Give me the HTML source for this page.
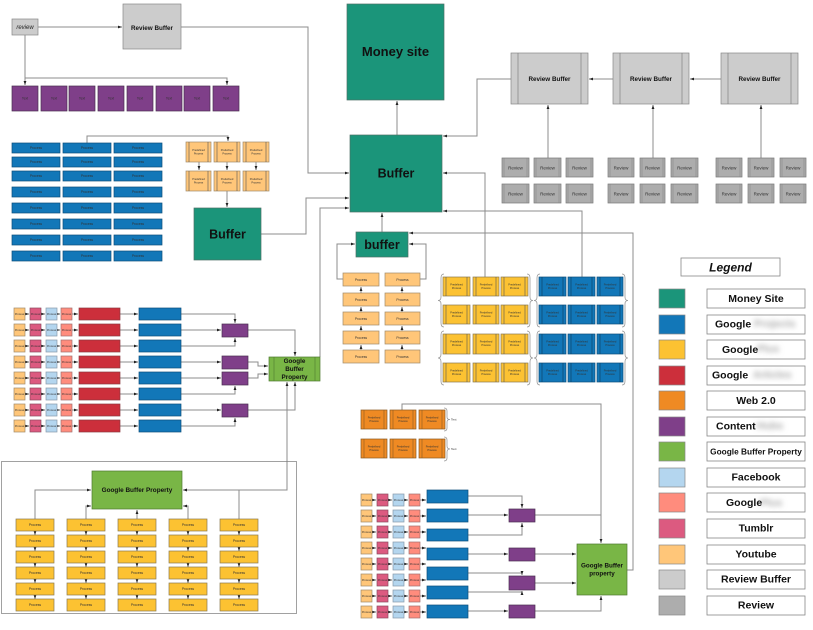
<!DOCTYPE html>
<html><head><meta charset="utf-8">
<style>
html,body{margin:0;padding:0;background:#fff;width:813px;height:630px;overflow:hidden}
svg{display:block;font-family:"Liberation Sans",Arial,sans-serif}
.c{fill:none;stroke:#8c8c8c;stroke-width:1}
rect{stroke:#7a7a7a;stroke-width:.7}
.t{font-size:3.4px;fill:#333;text-anchor:middle}
.s{font-size:2.6px;fill:#333;text-anchor:middle}
.b{font-weight:bold;text-anchor:middle;fill:#111}
.teal{fill:#1b957a;stroke:#4d6f66}
.blu{fill:#1277b8;stroke:#0c4f7a}
.yel{fill:#fcc232;stroke:#8a7a50}
.red{fill:#cc2f3b;stroke:#8a3a40}
.org{fill:#ef8a23;stroke:#8a5a20}
.pur{fill:#7f3f89;stroke:#4a3050}
.grn{fill:#79b646;stroke:#4f7a30}
.fb{fill:#b4d6ef;stroke:#8899aa}
.gp{fill:#ff8c7d;stroke:#a07070}
.tb{fill:#dc5a80;stroke:#8a4a60}
.yt{fill:#ffc679;stroke:#a08a6a}
.rb{fill:#cccccc;stroke:#888}
.rv{fill:#adadad;stroke:#777}
.il{fill:none;stroke:#555;stroke-width:.6}
.br{fill:none;stroke:#999;stroke-width:.8}
.lg{fill:#fff;stroke:#888;stroke-width:.8}
.blr{font-weight:bold;font-size:10.5px;fill:#a8a8a8}
</style></head><body>
<svg width="813" height="630" viewBox="0 0 813 630">
<defs>
<marker id="a" markerWidth="4" markerHeight="4" refX="4" refY="2" orient="auto-start-reverse" markerUnits="userSpaceOnUse"><path d="M0,0.6L4,2L0,3.4z" fill="#222"/></marker>
<filter id="bl" x="-20%" y="-60%" width="140%" height="220%"><feGaussianBlur stdDeviation="2.6"/></filter>
</defs>

<!-- ===== connectors ===== -->
<g class="c" marker-end="url(#a)">
<path d="M38,27H122"/>
<path d="M181,27H308V173H349"/>
<path d="M25,35V85"/>
<path d="M25,78H227V85"/>
<path d="M87,143V136H228V141"/>
<path d="M199,162V170"/><path d="M227,162V170"/><path d="M256,162V170"/>
<path d="M227,191V207"/>
<path d="M261,234H306V198H349"/>
<path d="M320,357V208H349"/>
<path d="M397,135V101"/>
<path d="M613,79H589"/><path d="M721,79H690"/>
<path d="M511,79H477V136H443"/>
<path d="M548,158V105"/><path d="M653,158V105"/><path d="M761,158V105"/>
<path d="M485,277V173H443"/>
<path d="M582,277V211H443"/>
<path d="M382,232V213"/>
<path d="M627,570H633V233H409"/>
<path d="M343,279H337V244H355"/>
<path d="M420,279H426V244H409"/>
<path d="M361,293V287"/><path d="M361,312V307"/><path d="M361,331V326"/><path d="M361,350V345"/>
<path d="M402,293V287"/><path d="M402,312V307"/><path d="M402,331V326"/><path d="M402,350V345"/>

<!-- left chain arrows -->
<path d="M25,314H29"/><path d="M41,314H45"/><path d="M57,314H60"/><path d="M72,314H78"/><path d="M120,314H138"/>
<path d="M25,330H29"/><path d="M41,330H45"/><path d="M57,330H60"/><path d="M72,330H78"/><path d="M120,330H138"/>
<path d="M25,346H29"/><path d="M41,346H45"/><path d="M57,346H60"/><path d="M72,346H78"/><path d="M120,346H138"/>
<path d="M25,362H29"/><path d="M41,362H45"/><path d="M57,362H60"/><path d="M72,362H78"/><path d="M120,362H138"/>
<path d="M25,378H29"/><path d="M41,378H45"/><path d="M57,378H60"/><path d="M72,378H78"/><path d="M120,378H138"/>
<path d="M25,394H29"/><path d="M41,394H45"/><path d="M57,394H60"/><path d="M72,394H78"/><path d="M120,394H138"/>
<path d="M25,410H29"/><path d="M41,410H45"/><path d="M57,410H60"/><path d="M72,410H78"/><path d="M120,410H138"/>
<path d="M25,426H29"/><path d="M41,426H45"/><path d="M57,426H60"/><path d="M72,426H78"/><path d="M120,426H138"/>

<path d="M181,314H235V323"/>
<path d="M181,330H221"/>
<path d="M181,346H235V338"/>
<path d="M248,330H295V356"/>
<path d="M181,362H221"/>
<path d="M181,378H221"/>
<path d="M248,362H258V366H268"/>
<path d="M248,378H258V374H268"/>
<path d="M181,394H235V386"/>
<path d="M181,410H221"/>
<path d="M181,426H235V418"/>
<path d="M248,410H295V382"/>
<path d="M287,382V490H183" marker-start="url(#a)"/>

<!-- bottom left -->
<path d="M35,519V490H91"/>
<path d="M86,519V506H91"/>
<path d="M137,519V510"/>
<path d="M188,519V506H183"/>
<path d="M239,519V490H183"/>
<path d="M35,531V535"/><path d="M35,547V551"/><path d="M35,563V567"/><path d="M35,579V583"/><path d="M35,595V599"/>
<path d="M86,531V535"/><path d="M86,547V551"/><path d="M86,563V567"/><path d="M86,579V583"/><path d="M86,595V599"/>
<path d="M137,531V535"/><path d="M137,547V551"/><path d="M137,563V567"/><path d="M137,579V583"/><path d="M137,595V599"/>
<path d="M188,531V535"/><path d="M188,547V551"/><path d="M188,563V567"/><path d="M188,579V583"/><path d="M188,595V599"/>
<path d="M239,531V535"/><path d="M239,547V551"/><path d="M239,563V567"/><path d="M239,579V583"/><path d="M239,595V599"/>

<!-- web 2.0 to right GBP -->
<path d="M402,410V404H601V543"/>

<!-- bottom chain arrows -->
<path d="M372,500H376"/><path d="M388,500H392"/><path d="M404,500H408"/><path d="M420,500H426"/>
<path d="M372,516H376"/><path d="M388,516H392"/><path d="M404,516H408"/><path d="M420,516H426"/>
<path d="M372,532H376"/><path d="M388,532H392"/><path d="M404,532H408"/><path d="M420,532H426"/>
<path d="M372,548H376"/><path d="M388,548H392"/><path d="M404,548H408"/><path d="M420,548H426"/>
<path d="M372,564H376"/><path d="M388,564H392"/><path d="M404,564H408"/><path d="M420,564H426"/>
<path d="M372,580H376"/><path d="M388,580H392"/><path d="M404,580H408"/><path d="M420,580H426"/>
<path d="M372,596H376"/><path d="M388,596H392"/><path d="M404,596H408"/><path d="M420,596H426"/>
<path d="M372,612H376"/><path d="M388,612H392"/><path d="M404,612H408"/><path d="M420,612H426"/>

<path d="M468,496H522V508"/>
<path d="M468,515H508"/>
<path d="M468,535H522V523"/>
<path d="M468,554H508"/>
<path d="M535,554H576"/>
<path d="M468,573H522V575"/>
<path d="M468,592H522V591"/>
<path d="M535,583H576"/>
<path d="M468,611H508"/>
<path d="M535,611H601V596"/>
</g>
<path class="c" d="M535,515H601"/>

<!-- ===== top-left ===== -->
<rect x="12" y="19" width="26" height="16" class="rb"/>
<text x="25" y="29" font-size="6" font-style="italic" text-anchor="middle" fill="#222">review</text>
<rect x="123" y="4" width="58" height="45" class="rb"/>
<text x="152" y="30" class="b" font-size="6.3">Review Buffer</text>

<g>
<rect x="12" y="86" width="26" height="25" class="pur"/>
<rect x="41" y="86" width="26" height="25" class="pur"/>
<rect x="69" y="86" width="26" height="25" class="pur"/>
<rect x="98" y="86" width="26" height="25" class="pur"/>
<rect x="127" y="86" width="26" height="25" class="pur"/>
<rect x="156" y="86" width="26" height="25" class="pur"/>
<rect x="184" y="86" width="26" height="25" class="pur"/>
<rect x="213" y="86" width="26" height="25" class="pur"/>
</g>
<g class="t">
<text x="25" y="99.5">Text</text><text x="54" y="99.5">Text</text><text x="82" y="99.5">Text</text><text x="111" y="99.5">Text</text>
<text x="140" y="99.5">Text</text><text x="169" y="99.5">Text</text><text x="197" y="99.5">Text</text><text x="226" y="99.5">Text</text>
</g>

<!-- blue grid -->
<g class="blu">
<rect x="12" y="143" width="48" height="10" class="blu"/><rect x="63" y="143" width="48" height="10" class="blu"/><rect x="114" y="143" width="48" height="10" class="blu"/>
<rect x="12" y="157" width="48" height="10" class="blu"/><rect x="63" y="157" width="48" height="10" class="blu"/><rect x="114" y="157" width="48" height="10" class="blu"/>
<rect x="12" y="171" width="48" height="10" class="blu"/><rect x="63" y="171" width="48" height="10" class="blu"/><rect x="114" y="171" width="48" height="10" class="blu"/>
<rect x="12" y="187" width="48" height="10" class="blu"/><rect x="63" y="187" width="48" height="10" class="blu"/><rect x="114" y="187" width="48" height="10" class="blu"/>
<rect x="12" y="203" width="48" height="10" class="blu"/><rect x="63" y="203" width="48" height="10" class="blu"/><rect x="114" y="203" width="48" height="10" class="blu"/>
<rect x="12" y="219" width="48" height="10" class="blu"/><rect x="63" y="219" width="48" height="10" class="blu"/><rect x="114" y="219" width="48" height="10" class="blu"/>
<rect x="12" y="235" width="48" height="10" class="blu"/><rect x="63" y="235" width="48" height="10" class="blu"/><rect x="114" y="235" width="48" height="10" class="blu"/>
<rect x="12" y="251" width="48" height="10" class="blu"/><rect x="63" y="251" width="48" height="10" class="blu"/><rect x="114" y="251" width="48" height="10" class="blu"/>
</g>
<g class="t">
<text x="36" y="149.2">Process</text><text x="87" y="149.2">Process</text><text x="138" y="149.2">Process</text>
<text x="36" y="163.2">Process</text><text x="87" y="163.2">Process</text><text x="138" y="163.2">Process</text>
<text x="36" y="177.2">Process</text><text x="87" y="177.2">Process</text><text x="138" y="177.2">Process</text>
<text x="36" y="193.2">Process</text><text x="87" y="193.2">Process</text><text x="138" y="193.2">Process</text>
<text x="36" y="209.2">Process</text><text x="87" y="209.2">Process</text><text x="138" y="209.2">Process</text>
<text x="36" y="225.2">Process</text><text x="87" y="225.2">Process</text><text x="138" y="225.2">Process</text>
<text x="36" y="241.2">Process</text><text x="87" y="241.2">Process</text><text x="138" y="241.2">Process</text>
<text x="36" y="257.2">Process</text><text x="87" y="257.2">Process</text><text x="138" y="257.2">Process</text>
</g>

<!-- orange predefined (top-left) -->
<rect x="186" y="142" width="25" height="20" class="yt"/><rect x="214" y="142" width="26" height="20" class="yt"/><rect x="243" y="142" width="26" height="20" class="yt"/>
<rect x="186" y="171" width="25" height="20" class="yt"/><rect x="214" y="171" width="26" height="20" class="yt"/><rect x="243" y="171" width="26" height="20" class="yt"/>
<path class="il" d="M189,142V162M208,142V162M217,142V162M237,142V162M246,142V162M266,142V162M189,171V191M208,171V191M217,171V191M237,171V191M246,171V191M266,171V191"/>
<g class="s">
<text x="198.5" y="151">Predefined</text><text x="198.5" y="154.5">Process</text>
<text x="227" y="151">Predefined</text><text x="227" y="154.5">Process</text>
<text x="256" y="151">Predefined</text><text x="256" y="154.5">Process</text>
<text x="198.5" y="180">Predefined</text><text x="198.5" y="183.5">Process</text>
<text x="227" y="180">Predefined</text><text x="227" y="183.5">Process</text>
<text x="256" y="180">Predefined</text><text x="256" y="183.5">Process</text>
</g>

<rect x="194" y="208" width="67" height="52" class="teal"/>
<text x="227.5" y="238.5" class="b" font-size="12.5">Buffer</text>

<!-- ===== center top ===== -->
<rect x="347" y="4" width="97" height="96" class="teal"/>
<text x="395.5" y="56" class="b" font-size="13">Money site</text>
<rect x="350" y="135" width="92" height="77" class="teal"/>
<text x="396" y="177.5" class="b" font-size="12.5">Buffer</text>

<!-- review buffers -->
<rect x="511" y="53" width="77" height="51" class="rb"/>
<rect x="613" y="53" width="76" height="51" class="rb"/>
<rect x="721" y="53" width="77" height="51" class="rb"/>
<path class="il" d="M518,53V104M581,53V104M620,53V104M682,53V104M728,53V104M791,53V104" style="stroke:#777"/>
<g class="b" font-size="6.3">
<text x="549.5" y="81">Review Buffer</text>
<text x="651" y="81">Review Buffer</text>
<text x="759.5" y="81">Review Buffer</text>
</g>

<!-- review small boxes -->
<g>
<rect x="502" y="158" width="27" height="19" class="rv"/><rect x="534" y="158" width="27" height="19" class="rv"/><rect x="566" y="158" width="27" height="19" class="rv"/>
<rect x="608" y="158" width="26" height="19" class="rv"/><rect x="640" y="158" width="25" height="19" class="rv"/><rect x="671" y="158" width="27" height="19" class="rv"/>
<rect x="716" y="158" width="26" height="19" class="rv"/><rect x="748" y="158" width="26" height="19" class="rv"/><rect x="780" y="158" width="26" height="19" class="rv"/>
<rect x="502" y="184" width="27" height="19" class="rv"/><rect x="534" y="184" width="27" height="19" class="rv"/><rect x="566" y="184" width="27" height="19" class="rv"/>
<rect x="608" y="184" width="26" height="19" class="rv"/><rect x="640" y="184" width="25" height="19" class="rv"/><rect x="671" y="184" width="27" height="19" class="rv"/>
<rect x="716" y="184" width="26" height="19" class="rv"/><rect x="748" y="184" width="26" height="19" class="rv"/><rect x="780" y="184" width="26" height="19" class="rv"/>
</g>
<path class="il" style="stroke:#888" d="M504,158V177M527,158V177M536,158V177M559,158V177M568,158V177M591,158V177M610,158V177M632,158V177M642,158V177M663,158V177M673,158V177M696,158V177M718,158V177M740,158V177M750,158V177M772,158V177M782,158V177M804,158V177M504,184V203M527,184V203M536,184V203M559,184V203M568,184V203M591,184V203M610,184V203M632,184V203M642,184V203M663,184V203M673,184V203M696,184V203M718,184V203M740,184V203M750,184V203M772,184V203M782,184V203M804,184V203"/>
<g class="t" style="font-size:4.5px">
<text x="515.5" y="169.5">Review</text><text x="547.5" y="169.5">Review</text><text x="579.5" y="169.5">Review</text>
<text x="621" y="169.5">Review</text><text x="652.5" y="169.5">Review</text><text x="684.5" y="169.5">Review</text>
<text x="729" y="169.5">Review</text><text x="761" y="169.5">Review</text><text x="793" y="169.5">Review</text>
<text x="515.5" y="195.5">Review</text><text x="547.5" y="195.5">Review</text><text x="579.5" y="195.5">Review</text>
<text x="621" y="195.5">Review</text><text x="652.5" y="195.5">Review</text><text x="684.5" y="195.5">Review</text>
<text x="729" y="195.5">Review</text><text x="761" y="195.5">Review</text><text x="793" y="195.5">Review</text>
</g>

<!-- ===== small buffer and process columns ===== -->
<rect x="356" y="232" width="52" height="25" class="teal"/>
<text x="382" y="249" class="b" font-size="12.5">buffer</text>

<rect x="343" y="273" width="36" height="13" class="yt"/><rect x="385" y="273" width="35" height="13" class="yt"/>
<rect x="343" y="293" width="36" height="13" class="yt"/><rect x="385" y="293" width="35" height="13" class="yt"/>
<rect x="343" y="312" width="36" height="13" class="yt"/><rect x="385" y="312" width="35" height="13" class="yt"/>
<rect x="343" y="331" width="36" height="13" class="yt"/><rect x="385" y="331" width="35" height="13" class="yt"/>
<rect x="343" y="350" width="36" height="13" class="yt"/><rect x="385" y="350" width="35" height="13" class="yt"/>
<g class="t">
<text x="361" y="280.8">Process</text><text x="402.5" y="280.8">Process</text>
<text x="361" y="300.8">Process</text><text x="402.5" y="300.8">Process</text>
<text x="361" y="319.8">Process</text><text x="402.5" y="319.8">Process</text>
<text x="361" y="338.8">Process</text><text x="402.5" y="338.8">Process</text>
<text x="361" y="357.8">Process</text><text x="402.5" y="357.8">Process</text>
</g>

<!-- yellow predefined group -->
<rect x="443" y="277" width="27" height="19" class="yel"/><rect x="473" y="277" width="26" height="19" class="yel"/><rect x="501" y="277" width="27" height="19" class="yel"/>
<rect x="443" y="305" width="27" height="19" class="yel"/><rect x="473" y="305" width="26" height="19" class="yel"/><rect x="501" y="305" width="27" height="19" class="yel"/>
<rect x="443" y="334" width="27" height="20" class="yel"/><rect x="473" y="334" width="26" height="20" class="yel"/><rect x="501" y="334" width="27" height="20" class="yel"/>
<rect x="443" y="363" width="27" height="19" class="yel"/><rect x="473" y="363" width="26" height="19" class="yel"/><rect x="501" y="363" width="27" height="19" class="yel"/>
<path class="il" d="M446,277V296M467,277V296M476,277V296M496,277V296M504,277V296M525,277V296M446,305V324M467,305V324M476,305V324M496,305V324M504,305V324M525,305V324M446,334V354M467,334V354M476,334V354M496,334V354M504,334V354M525,334V354M446,363V382M467,363V382M476,363V382M496,363V382M504,363V382M525,363V382"/>
<!-- blue predefined group -->
<rect x="539" y="277" width="27" height="19" class="blu"/><rect x="568" y="277" width="27" height="19" class="blu"/><rect x="597" y="277" width="26" height="19" class="blu"/>
<rect x="539" y="305" width="27" height="19" class="blu"/><rect x="568" y="305" width="27" height="19" class="blu"/><rect x="597" y="305" width="26" height="19" class="blu"/>
<rect x="539" y="334" width="27" height="20" class="blu"/><rect x="568" y="334" width="27" height="20" class="blu"/><rect x="597" y="334" width="26" height="20" class="blu"/>
<rect x="539" y="363" width="27" height="19" class="blu"/><rect x="568" y="363" width="27" height="19" class="blu"/><rect x="597" y="363" width="26" height="19" class="blu"/>
<path class="il" style="stroke:#0a3d5e" d="M542,277V296M563,277V296M571,277V296M592,277V296M600,277V296M620,277V296M542,305V324M563,305V324M571,305V324M592,305V324M600,305V324M620,305V324M542,334V354M563,334V354M571,334V354M592,334V354M600,334V354M620,334V354M542,363V382M563,363V382M571,363V382M592,363V382M600,363V382M620,363V382"/>
<g class="s">
<text x="456.5" y="285.5">Predefined</text><text x="456.5" y="289">Process</text><text x="486" y="285.5">Predefined</text><text x="486" y="289">Process</text><text x="514.5" y="285.5">Predefined</text><text x="514.5" y="289">Process</text>
<text x="456.5" y="313.5">Predefined</text><text x="456.5" y="317">Process</text><text x="486" y="313.5">Predefined</text><text x="486" y="317">Process</text><text x="514.5" y="313.5">Predefined</text><text x="514.5" y="317">Process</text>
<text x="456.5" y="342.5">Predefined</text><text x="456.5" y="346">Process</text><text x="486" y="342.5">Predefined</text><text x="486" y="346">Process</text><text x="514.5" y="342.5">Predefined</text><text x="514.5" y="346">Process</text>
<text x="456.5" y="371.5">Predefined</text><text x="456.5" y="375">Process</text><text x="486" y="371.5">Predefined</text><text x="486" y="375">Process</text><text x="514.5" y="371.5">Predefined</text><text x="514.5" y="375">Process</text>
<text x="552.5" y="285.5">Predefined</text><text x="552.5" y="289">Process</text><text x="581.5" y="285.5">Predefined</text><text x="581.5" y="289">Process</text><text x="610" y="285.5">Predefined</text><text x="610" y="289">Process</text>
<text x="552.5" y="313.5">Predefined</text><text x="552.5" y="317">Process</text><text x="581.5" y="313.5">Predefined</text><text x="581.5" y="317">Process</text><text x="610" y="313.5">Predefined</text><text x="610" y="317">Process</text>
<text x="552.5" y="342.5">Predefined</text><text x="552.5" y="346">Process</text><text x="581.5" y="342.5">Predefined</text><text x="581.5" y="346">Process</text><text x="610" y="342.5">Predefined</text><text x="610" y="346">Process</text>
<text x="552.5" y="371.5">Predefined</text><text x="552.5" y="375">Process</text><text x="581.5" y="371.5">Predefined</text><text x="581.5" y="375">Process</text><text x="610" y="371.5">Predefined</text><text x="610" y="375">Process</text>
</g>
<!-- braces -->
<g class="br">
<path d="M444,274Q441,274 441,278V297Q441,300.5 438,300.5Q441,300.5 441,304V323Q441,327 444,327"/>
<path d="M527,274Q530,274 530,278V297Q530,300.5 533,300.5Q530,300.5 530,304V323Q530,327 527,327"/>
<path d="M444,331Q441,331 441,335V354Q441,358 438,358Q441,358 441,362V381Q441,385 444,385"/>
<path d="M527,331Q530,331 530,335V354Q530,358 533,358Q530,358 530,362V381Q530,385 527,385"/>
<path d="M540,274Q537,274 537,278V297Q537,300.5 534,300.5Q537,300.5 537,304V323Q537,327 540,327"/>
<path d="M622,274Q625,274 625,278V297Q625,300.5 628,300.5Q625,300.5 625,304V323Q625,327 622,327"/>
<path d="M540,331Q537,331 537,335V354Q537,358 534,358Q537,358 537,362V381Q537,385 540,385"/>
<path d="M622,331Q625,331 625,335V354Q625,358 628,358Q625,358 625,362V381Q625,385 622,385"/>
<path d="M444,408Q447,408 447,411V417Q447,419.5 450,419.5Q447,419.5 447,422V428Q447,431 444,431"/>
<path d="M444,437Q447,437 447,440V446Q447,449 450,449Q447,449 447,452V458Q447,461 444,461"/>
</g>

<!-- ===== left chains ===== -->
<g>
<rect x="14" y="308" width="11" height="12" class="yt"/><rect x="30" y="308" width="11" height="12" class="tb"/><rect x="46" y="308" width="11" height="12" class="fb"/><rect x="61" y="308" width="11" height="12" class="gp"/><rect x="79" y="308" width="41" height="12" class="red"/><rect x="139" y="308" width="42" height="12" class="blu"/>
<rect x="14" y="324" width="11" height="12" class="yt"/><rect x="30" y="324" width="11" height="12" class="tb"/><rect x="46" y="324" width="11" height="12" class="fb"/><rect x="61" y="324" width="11" height="12" class="gp"/><rect x="79" y="324" width="41" height="12" class="red"/><rect x="139" y="324" width="42" height="12" class="blu"/>
<rect x="14" y="340" width="11" height="12" class="yt"/><rect x="30" y="340" width="11" height="12" class="tb"/><rect x="46" y="340" width="11" height="12" class="fb"/><rect x="61" y="340" width="11" height="12" class="gp"/><rect x="79" y="340" width="41" height="12" class="red"/><rect x="139" y="340" width="42" height="12" class="blu"/>
<rect x="14" y="356" width="11" height="12" class="yt"/><rect x="30" y="356" width="11" height="12" class="tb"/><rect x="46" y="356" width="11" height="12" class="fb"/><rect x="61" y="356" width="11" height="12" class="gp"/><rect x="79" y="356" width="41" height="12" class="red"/><rect x="139" y="356" width="42" height="12" class="blu"/>
<rect x="14" y="372" width="11" height="12" class="yt"/><rect x="30" y="372" width="11" height="12" class="tb"/><rect x="46" y="372" width="11" height="12" class="fb"/><rect x="61" y="372" width="11" height="12" class="gp"/><rect x="79" y="372" width="41" height="12" class="red"/><rect x="139" y="372" width="42" height="12" class="blu"/>
<rect x="14" y="388" width="11" height="12" class="yt"/><rect x="30" y="388" width="11" height="12" class="tb"/><rect x="46" y="388" width="11" height="12" class="fb"/><rect x="61" y="388" width="11" height="12" class="gp"/><rect x="79" y="388" width="41" height="12" class="red"/><rect x="139" y="388" width="42" height="12" class="blu"/>
<rect x="14" y="404" width="11" height="12" class="yt"/><rect x="30" y="404" width="11" height="12" class="tb"/><rect x="46" y="404" width="11" height="12" class="fb"/><rect x="61" y="404" width="11" height="12" class="gp"/><rect x="79" y="404" width="41" height="12" class="red"/><rect x="139" y="404" width="42" height="12" class="blu"/>
<rect x="14" y="420" width="11" height="12" class="yt"/><rect x="30" y="420" width="11" height="12" class="tb"/><rect x="46" y="420" width="11" height="12" class="fb"/><rect x="61" y="420" width="11" height="12" class="gp"/><rect x="79" y="420" width="41" height="12" class="red"/><rect x="139" y="420" width="42" height="12" class="blu"/>
</g>
<g class="s">
<text x="19.5" y="315">Process</text><text x="35.5" y="315">Process</text><text x="51.5" y="315">Process</text><text x="66.5" y="315">Process</text>
<text x="19.5" y="331">Process</text><text x="35.5" y="331">Process</text><text x="51.5" y="331">Process</text><text x="66.5" y="331">Process</text>
<text x="19.5" y="347">Process</text><text x="35.5" y="347">Process</text><text x="51.5" y="347">Process</text><text x="66.5" y="347">Process</text>
<text x="19.5" y="363">Process</text><text x="35.5" y="363">Process</text><text x="51.5" y="363">Process</text><text x="66.5" y="363">Process</text>
<text x="19.5" y="379">Process</text><text x="35.5" y="379">Process</text><text x="51.5" y="379">Process</text><text x="66.5" y="379">Process</text>
<text x="19.5" y="395">Process</text><text x="35.5" y="395">Process</text><text x="51.5" y="395">Process</text><text x="66.5" y="395">Process</text>
<text x="19.5" y="411">Process</text><text x="35.5" y="411">Process</text><text x="51.5" y="411">Process</text><text x="66.5" y="411">Process</text>
<text x="19.5" y="427">Process</text><text x="35.5" y="427">Process</text><text x="51.5" y="427">Process</text><text x="66.5" y="427">Process</text>
</g>
<rect x="222" y="324" width="26" height="13" class="pur"/>
<rect x="222" y="356" width="26" height="13" class="pur"/>
<rect x="222" y="372" width="26" height="13" class="pur"/>
<rect x="222" y="404" width="26" height="13" class="pur"/>

<rect x="269" y="357" width="51" height="24" class="grn"/>
<path class="il" style="stroke:#4f7a30" d="M274,357V381M315,357V381"/>
<g class="b" font-size="6.3">
<text x="294.5" y="362.8">Google</text>
<text x="294.5" y="370.8">Buffer</text>
<text x="294.5" y="378.8">Property</text>
</g>

<!-- ===== bottom-left container ===== -->
<rect x="1.5" y="461.5" width="295" height="152" fill="none" stroke="#aaa" stroke-width="1"/>
<rect x="92" y="471" width="90" height="38" class="grn"/>
<text x="137" y="492" class="b" font-size="6.4">Google Buffer Property</text>
<g>
<rect x="16" y="519" width="38" height="12" class="yel"/><rect x="67" y="519" width="38" height="12" class="yel"/><rect x="118" y="519" width="38" height="12" class="yel"/><rect x="169" y="519" width="38" height="12" class="yel"/><rect x="220" y="519" width="38" height="12" class="yel"/>
<rect x="16" y="535" width="38" height="12" class="yel"/><rect x="67" y="535" width="38" height="12" class="yel"/><rect x="118" y="535" width="38" height="12" class="yel"/><rect x="169" y="535" width="38" height="12" class="yel"/><rect x="220" y="535" width="38" height="12" class="yel"/>
<rect x="16" y="551" width="38" height="12" class="yel"/><rect x="67" y="551" width="38" height="12" class="yel"/><rect x="118" y="551" width="38" height="12" class="yel"/><rect x="169" y="551" width="38" height="12" class="yel"/><rect x="220" y="551" width="38" height="12" class="yel"/>
<rect x="16" y="567" width="38" height="12" class="yel"/><rect x="67" y="567" width="38" height="12" class="yel"/><rect x="118" y="567" width="38" height="12" class="yel"/><rect x="169" y="567" width="38" height="12" class="yel"/><rect x="220" y="567" width="38" height="12" class="yel"/>
<rect x="16" y="583" width="38" height="12" class="yel"/><rect x="67" y="583" width="38" height="12" class="yel"/><rect x="118" y="583" width="38" height="12" class="yel"/><rect x="169" y="583" width="38" height="12" class="yel"/><rect x="220" y="583" width="38" height="12" class="yel"/>
<rect x="16" y="599" width="38" height="12" class="yel"/><rect x="67" y="599" width="38" height="12" class="yel"/><rect x="118" y="599" width="38" height="12" class="yel"/><rect x="169" y="599" width="38" height="12" class="yel"/><rect x="220" y="599" width="38" height="12" class="yel"/>
</g>
<g class="t">
<text x="35" y="526.2">Process</text><text x="86" y="526.2">Process</text><text x="137" y="526.2">Process</text><text x="188" y="526.2">Process</text><text x="239" y="526.2">Process</text>
<text x="35" y="542.2">Process</text><text x="86" y="542.2">Process</text><text x="137" y="542.2">Process</text><text x="188" y="542.2">Process</text><text x="239" y="542.2">Process</text>
<text x="35" y="558.2">Process</text><text x="86" y="558.2">Process</text><text x="137" y="558.2">Process</text><text x="188" y="558.2">Process</text><text x="239" y="558.2">Process</text>
<text x="35" y="574.2">Process</text><text x="86" y="574.2">Process</text><text x="137" y="574.2">Process</text><text x="188" y="574.2">Process</text><text x="239" y="574.2">Process</text>
<text x="35" y="590.2">Process</text><text x="86" y="590.2">Process</text><text x="137" y="590.2">Process</text><text x="188" y="590.2">Process</text><text x="239" y="590.2">Process</text>
<text x="35" y="606.2">Process</text><text x="86" y="606.2">Process</text><text x="137" y="606.2">Process</text><text x="188" y="606.2">Process</text><text x="239" y="606.2">Process</text>
</g>

<!-- ===== web 2.0 ===== -->
<rect x="361" y="410" width="26" height="19" class="org"/><rect x="390" y="410" width="26" height="19" class="org"/><rect x="419" y="410" width="26" height="19" class="org"/>
<rect x="361" y="439" width="26" height="19" class="org"/><rect x="390" y="439" width="26" height="19" class="org"/><rect x="419" y="439" width="26" height="19" class="org"/>
<path class="il" style="stroke:#8a5a20" d="M364,410V429M384,410V429M393,410V429M413,410V429M422,410V429M442,410V429M364,439V458M384,439V458M393,439V458M413,439V458M422,439V458M442,439V458"/>
<g class="s">
<text x="374" y="418.5">Predefined</text><text x="374" y="422">Process</text><text x="403" y="418.5">Predefined</text><text x="403" y="422">Process</text><text x="432" y="418.5">Predefined</text><text x="432" y="422">Process</text>
<text x="374" y="447.5">Predefined</text><text x="374" y="451">Process</text><text x="403" y="447.5">Predefined</text><text x="403" y="451">Process</text><text x="432" y="447.5">Predefined</text><text x="432" y="451">Process</text>
</g>
<text x="451" y="420.5" font-size="3" fill="#333">Text</text>
<text x="451" y="450" font-size="3" fill="#333">Text</text>

<!-- ===== bottom chains ===== -->
<g>
<rect x="361" y="494" width="11" height="12" class="yt"/><rect x="377" y="494" width="11" height="12" class="tb"/><rect x="393" y="494" width="11" height="12" class="fb"/><rect x="409" y="494" width="11" height="12" class="gp"/>
<rect x="361" y="510" width="11" height="12" class="yt"/><rect x="377" y="510" width="11" height="12" class="tb"/><rect x="393" y="510" width="11" height="12" class="fb"/><rect x="409" y="510" width="11" height="12" class="gp"/>
<rect x="361" y="526" width="11" height="12" class="yt"/><rect x="377" y="526" width="11" height="12" class="tb"/><rect x="393" y="526" width="11" height="12" class="fb"/><rect x="409" y="526" width="11" height="12" class="gp"/>
<rect x="361" y="542" width="11" height="12" class="yt"/><rect x="377" y="542" width="11" height="12" class="tb"/><rect x="393" y="542" width="11" height="12" class="fb"/><rect x="409" y="542" width="11" height="12" class="gp"/>
<rect x="361" y="558" width="11" height="12" class="yt"/><rect x="377" y="558" width="11" height="12" class="tb"/><rect x="393" y="558" width="11" height="12" class="fb"/><rect x="409" y="558" width="11" height="12" class="gp"/>
<rect x="361" y="574" width="11" height="12" class="yt"/><rect x="377" y="574" width="11" height="12" class="tb"/><rect x="393" y="574" width="11" height="12" class="fb"/><rect x="409" y="574" width="11" height="12" class="gp"/>
<rect x="361" y="590" width="11" height="12" class="yt"/><rect x="377" y="590" width="11" height="12" class="tb"/><rect x="393" y="590" width="11" height="12" class="fb"/><rect x="409" y="590" width="11" height="12" class="gp"/>
<rect x="361" y="606" width="11" height="12" class="yt"/><rect x="377" y="606" width="11" height="12" class="tb"/><rect x="393" y="606" width="11" height="12" class="fb"/><rect x="409" y="606" width="11" height="12" class="gp"/>
</g>
<g class="s">
<text x="366.5" y="501">Process</text><text x="382.5" y="501">Process</text><text x="398.5" y="501">Process</text><text x="414.5" y="501">Process</text>
<text x="366.5" y="517">Process</text><text x="382.5" y="517">Process</text><text x="398.5" y="517">Process</text><text x="414.5" y="517">Process</text>
<text x="366.5" y="533">Process</text><text x="382.5" y="533">Process</text><text x="398.5" y="533">Process</text><text x="414.5" y="533">Process</text>
<text x="366.5" y="549">Process</text><text x="382.5" y="549">Process</text><text x="398.5" y="549">Process</text><text x="414.5" y="549">Process</text>
<text x="366.5" y="565">Process</text><text x="382.5" y="565">Process</text><text x="398.5" y="565">Process</text><text x="414.5" y="565">Process</text>
<text x="366.5" y="581">Process</text><text x="382.5" y="581">Process</text><text x="398.5" y="581">Process</text><text x="414.5" y="581">Process</text>
<text x="366.5" y="597">Process</text><text x="382.5" y="597">Process</text><text x="398.5" y="597">Process</text><text x="414.5" y="597">Process</text>
<text x="366.5" y="613">Process</text><text x="382.5" y="613">Process</text><text x="398.5" y="613">Process</text><text x="414.5" y="613">Process</text>
</g>
<rect x="427" y="490" width="41" height="13" class="blu"/>
<rect x="427" y="509" width="41" height="13" class="blu"/>
<rect x="427" y="529" width="41" height="12" class="blu"/>
<rect x="427" y="548" width="41" height="12" class="blu"/>
<rect x="427" y="567" width="41" height="13" class="blu"/>
<rect x="427" y="586" width="41" height="13" class="blu"/>
<rect x="427" y="605" width="41" height="13" class="blu"/>
<rect x="509" y="509" width="26" height="13" class="pur"/>
<rect x="509" y="548" width="26" height="13" class="pur"/>
<rect x="509" y="576" width="26" height="14" class="pur"/>
<rect x="509" y="605" width="26" height="13" class="pur"/>

<rect x="577" y="544" width="50" height="51" class="grn"/>
<g class="b" font-size="6.3">
<text x="602" y="567.3">Google Buffer</text>
<text x="602" y="575.5">property</text>
</g>

<!-- ===== legend ===== -->
<rect x="681" y="258" width="99" height="18" class="lg"/>
<text x="730.5" y="271.5" class="b" font-size="12" font-style="italic">Legend</text>

<rect x="659" y="289" width="26" height="19" class="teal" style="stroke:#888"/>
<rect x="659" y="315" width="26" height="19" class="blu" style="stroke:#888"/>
<rect x="659" y="340" width="26" height="19" class="yel" style="stroke:#888"/>
<rect x="659" y="366" width="26" height="19" class="red" style="stroke:#888"/>
<rect x="659" y="391" width="26" height="19" class="org" style="stroke:#888"/>
<rect x="659" y="417" width="26" height="19" class="pur" style="stroke:#888"/>
<rect x="659" y="442" width="26" height="19" class="grn" style="stroke:#888"/>
<rect x="659" y="468" width="26" height="19" class="fb" style="stroke:#888"/>
<rect x="659" y="493" width="26" height="19" class="gp" style="stroke:#888"/>
<rect x="659" y="519" width="26" height="19" class="tb" style="stroke:#888"/>
<rect x="659" y="545" width="26" height="19" class="yt" style="stroke:#888"/>
<rect x="659" y="570" width="26" height="19" class="rb" style="stroke:#888"/>
<rect x="659" y="596" width="26" height="19" class="rv" style="stroke:#888"/>

<rect x="707" y="289" width="98" height="19" class="lg"/>
<rect x="707" y="315" width="98" height="19" class="lg"/>
<rect x="707" y="340" width="98" height="19" class="lg"/>
<rect x="707" y="366" width="98" height="19" class="lg"/>
<rect x="707" y="391" width="98" height="19" class="lg"/>
<rect x="707" y="417" width="98" height="19" class="lg"/>
<rect x="707" y="442" width="98" height="19" class="lg"/>
<rect x="707" y="468" width="98" height="19" class="lg"/>
<rect x="707" y="493" width="98" height="19" class="lg"/>
<rect x="707" y="519" width="98" height="19" class="lg"/>
<rect x="707" y="545" width="98" height="19" class="lg"/>
<rect x="707" y="570" width="98" height="19" class="lg"/>
<rect x="707" y="596" width="98" height="19" class="lg"/>

<g filter="url(#bl)">
<text x="754" y="327" class="blr">Projects</text>
<text x="757" y="352" class="blr">Plus</text>
<text x="753" y="378" class="blr">Articles</text>
<text x="757" y="429" class="blr">Hubs</text>
<text x="760" y="506" class="blr">Plus</text>
</g>
<g class="b" font-size="10.5">
<text x="756" y="302">Money Site</text>
<text x="715" y="327.5" style="text-anchor:start">Google</text>
<text x="722" y="353" style="text-anchor:start">Google</text>
<text x="712" y="378.5" style="text-anchor:start">Google</text>
<text x="756" y="404">Web 2.0</text>
<text x="716" y="429.5" style="text-anchor:start">Content</text>
<text x="756" y="454.5" font-size="8.3">Google Buffer Property</text>
<text x="756" y="480.5">Facebook</text>
<text x="726" y="506" style="text-anchor:start">Google</text>
<text x="756" y="531.5">Tumblr</text>
<text x="756" y="557.5">Youtube</text>
<text x="756" y="582.5">Review Buffer</text>
<text x="756" y="608.5">Review</text>
</g>
</svg>
</body></html>
